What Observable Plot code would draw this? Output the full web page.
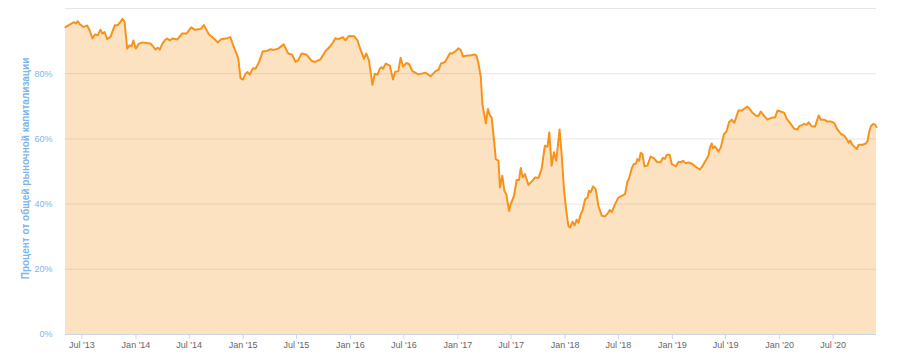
<!DOCTYPE html>
<html><head><meta charset="utf-8">
<script src="https://cdn.jsdelivr.net/npm/d3@7"></script>
<script src="https://cdn.jsdelivr.net/npm/@observablehq/plot@0.6"></script>
<style>body{margin:0;background:#fff}</style>
</head><body><div id="chart"></div>
<script>
const dates = [
"2013-05-06","2013-05-23","2013-06-04","2013-06-10","2013-06-17","2013-06-24","2013-07-06","2013-07-19","2013-07-28","2013-08-06",
"2013-08-14","2013-08-24","2013-09-02","2013-09-09","2013-09-16","2013-09-25","2013-10-06","2013-10-21","2013-10-31","2013-11-09",
"2013-11-16","2013-11-23","2013-12-02","2013-12-10","2013-12-17","2013-12-23","2013-12-31","2014-01-11","2014-01-23","2014-02-08",
"2014-02-20","2014-03-09","2014-03-16","2014-03-23","2014-04-01","2014-04-12","2014-04-17","2014-04-26","2014-05-05","2014-05-22",
"2014-06-07","2014-06-22","2014-07-08","2014-07-19","2014-08-09","2014-08-20","2014-09-06","2014-09-23","2014-10-07","2014-10-18",
"2014-11-08","2014-11-18","2014-11-30","2014-12-15","2014-12-23","2014-12-31","2015-01-09","2015-01-16","2015-01-23","2015-02-03",
"2015-02-12","2015-02-23","2015-03-09","2015-03-21","2015-04-04","2015-04-15","2015-04-30","2015-05-19","2015-06-03","2015-06-17",
"2015-06-28","2015-07-07","2015-07-19","2015-08-04","2015-08-22","2015-09-02","2015-09-21","2015-10-08","2015-10-25","2015-11-02",
"2015-11-11","2015-11-21","2015-12-06","2015-12-15","2015-12-27","2016-01-13","2016-01-25","2016-02-05","2016-02-16","2016-02-24",
"2016-03-04","2016-03-16","2016-03-24","2016-04-02","2016-04-10","2016-04-16","2016-04-21","2016-04-30","2016-05-14","2016-05-25",
"2016-06-01","2016-06-12","2016-06-20","2016-06-28","2016-07-10","2016-07-19","2016-07-30","2016-08-19","2016-09-13","2016-09-30",
"2016-10-17","2016-10-27","2016-11-04","2016-11-18","2016-12-05","2016-12-13","2016-12-25","2017-01-03","2017-01-11","2017-01-18",
"2017-02-02","2017-02-13","2017-02-25","2017-03-05","2017-03-12","2017-03-20","2017-03-25","2017-03-31","2017-04-06","2017-04-13",
"2017-04-20","2017-04-26","2017-05-04","2017-05-10","2017-05-19","2017-05-24","2017-06-01","2017-06-08","2017-06-15","2017-06-24",
"2017-06-30","2017-07-11","2017-07-20","2017-07-28","2017-08-03","2017-08-09","2017-08-17","2017-08-29","2017-09-12","2017-09-21",
"2017-10-02","2017-10-13","2017-10-24","2017-11-02","2017-11-08","2017-11-16","2017-11-24","2017-12-02","2017-12-13","2017-12-20",
"2017-12-28","2018-01-05","2018-01-12","2018-01-18","2018-01-26","2018-02-02","2018-02-09","2018-02-15","2018-02-23","2018-03-01",
"2018-03-10","2018-03-18","2018-03-23","2018-03-29","2018-04-06","2018-04-15","2018-04-24","2018-05-06","2018-05-17","2018-05-28",
"2018-06-02","2018-06-09","2018-06-20","2018-07-01","2018-07-15","2018-07-24","2018-08-01","2018-08-06","2018-08-16","2018-08-23",
"2018-08-29","2018-09-04","2018-09-10","2018-09-15","2018-09-21","2018-09-28","2018-10-08","2018-10-19","2018-10-31","2018-11-11",
"2018-11-22","2018-11-30","2018-12-07","2018-12-13","2018-12-23","2018-12-30","2019-01-13","2019-01-22","2019-01-30","2019-02-06",
"2019-02-15","2019-02-25","2019-03-10","2019-03-24","2019-04-04","2019-04-13","2019-04-24","2019-05-04","2019-05-09","2019-05-15",
"2019-05-19","2019-05-26","2019-06-07","2019-06-15","2019-06-26","2019-07-04","2019-07-13","2019-07-22","2019-07-31","2019-08-14",
"2019-08-25","2019-09-05","2019-09-14","2019-09-21","2019-10-01","2019-10-12","2019-10-21","2019-10-29","2019-11-06","2019-11-21",
"2019-12-08","2019-12-17","2019-12-25","2020-01-05","2020-01-17","2020-01-25","2020-02-08","2020-02-20","2020-03-02","2020-03-08",
"2020-03-19","2020-03-25","2020-04-02","2020-04-09","2020-04-20","2020-05-01","2020-05-13","2020-05-21","2020-06-01","2020-06-12",
"2020-06-24","2020-07-05","2020-07-16","2020-07-28","2020-08-08","2020-08-16","2020-08-23","2020-08-28","2020-09-05","2020-09-14",
"2020-09-20","2020-09-26","2020-10-10","2020-10-21","2020-10-27","2020-11-01","2020-11-07","2020-11-15","2020-11-22","2020-11-26"
];
const dominance = [
94.3,95.2,95.8,95.4,96.1,95.2,94.3,94.8,93.1,90.8,
92.0,91.8,93.5,92.3,92.8,90.6,91.3,94.9,94.9,95.9,
96.8,95.9,87.7,88.7,88.4,90.2,87.7,89.2,89.6,89.4,
89.2,87.4,88.0,87.4,89.2,90.5,90.8,90.2,90.8,90.5,
92.3,92.3,94.2,93.5,93.7,94.9,92.1,90.8,89.6,90.6,
90.9,91.2,88.2,84.8,78.6,78.2,80.0,80.5,79.7,81.7,
81.5,83.4,86.9,86.9,87.5,87.3,87.7,89.0,86.2,85.8,
83.6,84.1,86.2,85.9,83.9,83.6,84.4,86.9,88.5,89.5,
90.9,90.6,91.2,90.2,91.6,91.5,90.2,87.2,84.6,86.2,
84.1,76.6,80.0,79.7,81.5,82.0,81.5,83.1,82.5,78.2,
80.5,80.8,84.9,82.2,83.3,82.9,80.8,79.8,80.3,79.2,
80.8,81.2,83.1,83.6,86.3,86.2,87.0,87.8,87.2,85.3,
85.6,85.6,85.9,85.6,83.1,79.0,70.8,67.7,64.8,69.2,
67.2,66.5,59.5,53.8,53.3,45.1,48.7,44.1,42.9,37.9,
40.0,42.6,47.4,47.4,51.1,48.2,49.2,45.9,47.2,48.2,
48.0,50.8,57.9,57.6,62.0,51.8,55.9,53.3,62.9,55.4,
44.6,37.9,33.3,32.8,34.6,33.5,35.2,34.3,36.9,37.9,
41.5,42.0,44.1,43.6,45.4,44.6,39.5,36.4,36.2,37.4,
38.2,37.6,40.0,42.0,42.6,43.1,46.9,47.7,51.0,52.3,
52.3,53.8,53.3,55.7,55.4,51.6,51.8,54.6,54.0,52.8,
52.8,54.2,53.9,55.1,55.1,52.3,51.6,53.0,52.8,53.3,
52.5,52.8,52.3,51.3,50.6,51.6,53.3,54.9,57.4,58.6,
57.1,57.7,56.1,57.4,61.5,62.2,65.1,65.9,64.9,68.7,
68.7,69.4,69.9,69.2,68.0,67.2,67.0,68.4,67.4,65.9,
66.6,66.6,68.7,68.4,68.0,66.2,64.6,63.1,62.9,63.9,
64.3,64.6,64.3,65.1,63.8,63.8,67.2,65.9,65.9,65.3,
65.3,64.9,62.9,61.5,61.0,60.0,58.8,59.5,58.2,57.4,
56.9,58.2,58.2,58.6,59.5,62.2,63.9,64.6,64.3,63.6
];
const xTicks = ["2013-07-01","2014-01-01","2014-07-01","2015-01-01","2015-07-01","2016-01-01","2016-07-01","2017-01-01",
"2017-07-01","2018-01-01","2018-07-01","2019-01-01","2019-07-01","2020-01-01","2020-07-01"];
const yTicks = [0, 20, 40, 60, 80];
const gridLevels = [20, 40, 60, 80, 100];
const yTitle = "Процент от общей рыночной капитализации";

const parse = d3.utcParse("%Y-%m-%d");
const data = dates.map((d, i) => ({date: parse(d), value: dominance[i]}));

const chart = Plot.plot({
  width: 898, height: 362,
  marginLeft: 65, marginRight: 22, marginTop: 8, marginBottom: 28,
  style: {fontFamily: "'Liberation Sans', Arial, sans-serif", background: "#fff"},
  x: {type: "utc", domain: d3.extent(data, d => d.date)},
  y: {domain: [0, 100]},
  marks: [
    Plot.ruleY(gridLevels, {stroke: "#e6e6e6"}),
    Plot.areaY(data, {x: "date", y: "value", fill: "#f7931a", fillOpacity: 0.27}),
    Plot.lineY(data, {x: "date", y: "value", stroke: "#f7931a", strokeWidth: 2, strokeLinejoin: "round"}),
    Plot.ruleY([0], {stroke: "#ccd6eb"}),
    Plot.axisX({ticks: xTicks.map(parse), tickFormat: d3.utcFormat("%b '%y"), tickSize: 5, tickPadding: 2,
      stroke: "#ccd6eb", fill: "#666", fontSize: 9, label: null}),
    Plot.axisY({ticks: yTicks, tickFormat: d => d + "%", tickSize: 0, tickPadding: 13,
      fill: "#7cb5ec", fontSize: 9, label: null}),
    Plot.text([yTitle], {text: d => d, frameAnchor: "left", textAnchor: "middle", rotate: -90, dx: -40, dy: -3,
      fill: "#7cb5ec", fontSize: 10, fontWeight: "bold"})
  ]
});
document.getElementById("chart").appendChild(chart);
</script>
</body></html>
